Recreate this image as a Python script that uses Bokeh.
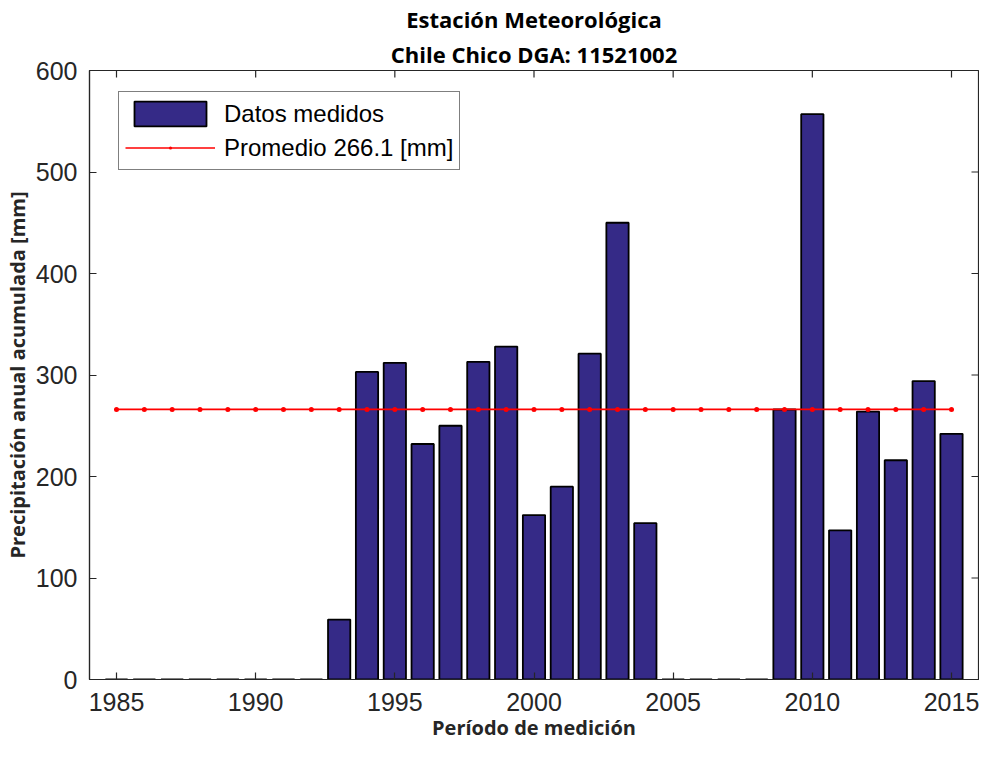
import math
from bokeh.plotting import figure
from bokeh.models import (Range1d, FixedTicker, Legend, LegendItem,
                          ColumnDataSource, Title)
from bokeh.embed import file_html
from bokeh.resources import INLINE

years = list(range(1985, 2016))
precip = [0, 0, 0, 0, 0, 0, 0, 0,
          59, 303, 312, 232, 250, 313, 328, 162, 190, 321, 450, 154,
          0, 0, 0, 0,
          266, 557, 147, 264, 216, 294, 242]
mean_value = 266.1
mean_line = [mean_value] * len(years)
x_ticks = [1985, 1990, 1995, 2000, 2005, 2010, 2015]
y_ticks = [0, 100, 200, 300, 400, 500, 600]
x_min, x_max = 1984.03, 2015.97
y_min, y_max = 0, 600

title_lines = ["Estación Meteorológica", "Chile Chico DGA: 11521002"]
x_label = "Período de medición"
y_label = "Precipitación anual acumulada [mm]"
bar_label = "Datos medidos"
mean_label = "Promedio 266.1 [mm]"

src = ColumnDataSource(dict(year=years, precip=precip, mean=mean_line))
top_src = ColumnDataSource(dict(x=x_ticks, y=[y_max] * len(x_ticks)))
right_src = ColumnDataSource(dict(x=[x_max] * len(y_ticks), y=y_ticks))

p = figure(width=979, height=744, output_backend="svg", toolbar_location=None,
           x_range=Range1d(x_min, x_max), y_range=Range1d(y_min, y_max),
           min_border_left=87, min_border_right=1, min_border_top=62,
           min_border_bottom=65)
p.title = None

p.xgrid.visible = False
p.ygrid.visible = False
p.outline_line_color = "#262626"
p.outline_line_width = 1.2

bars = p.vbar(x="year", top="precip", width=0.8, source=src,
              fill_color="#352a87", line_color="#000000", line_width=1.8)
ln = p.line(x="year", y="mean", source=src, line_color="#ff0000", line_width=1.6)
dots = p.scatter(x="year", y="mean", source=src, marker="dot", size=20,
                 line_color="#ff0000", fill_color="#ff0000", line_width=1.5)

# mirrored inner ticks on the top and right edges of the box
p.scatter(x="x", y="y", source=top_src, marker="dash", angle=math.pi / 2,
          size=14, line_color="#262626", line_width=1.2)
p.scatter(x="x", y="y", source=right_src, marker="dash",
          size=14, line_color="#262626", line_width=1.2)

for ax in (p.xaxis[0], p.yaxis[0]):
    ax.major_tick_in = 7
    ax.major_tick_out = 0
    ax.minor_tick_in = 0
    ax.minor_tick_out = 0
    ax.axis_line_color = "#262626"
    ax.axis_line_width = 1.2
    ax.major_tick_line_color = "#262626"
    ax.major_tick_line_width = 1.2
    ax.major_label_text_font = "Liberation Sans"
    ax.major_label_text_font_size = "25px"
    ax.major_label_text_color = "#262626"
    ax.axis_label_text_font = "Open Sans"
    ax.axis_label_text_font_style = "bold"
    ax.axis_label_text_font_size = "20px"
    ax.axis_label_text_color = "#262626"

p.xaxis.ticker = FixedTicker(ticks=x_ticks)
p.yaxis.ticker = FixedTicker(ticks=y_ticks)
p.xaxis.axis_label = x_label
p.yaxis.axis_label = y_label
p.xaxis.major_label_standoff = 13
p.xaxis.axis_label_standoff = 0
p.yaxis.major_label_standoff = 12
p.yaxis.axis_label_standoff = 2

standoffs = [2, 4]
for t, so in reversed(list(zip(title_lines, standoffs))):
    p.add_layout(Title(text=t, align="center", text_font="Open Sans",
                       text_font_size="22px", text_font_style="bold",
                       text_color="#000000", standoff=so), "above")

legend = Legend(items=[LegendItem(label=bar_label, renderers=[bars]),
                       LegendItem(label=mean_label, renderers=[ln, dots])],
                location=(29, 509), padding=6, spacing=3,
                glyph_width=90, glyph_height=31, label_standoff=9,
                label_text_font="Liberation Sans", label_text_font_size="24px",
                label_text_color="#000000", border_line_color="#000000",
                border_line_width=1.2, background_fill_alpha=1.0)
p.add_layout(legend)

open("out.html", "w").write(file_html(p, INLINE))
